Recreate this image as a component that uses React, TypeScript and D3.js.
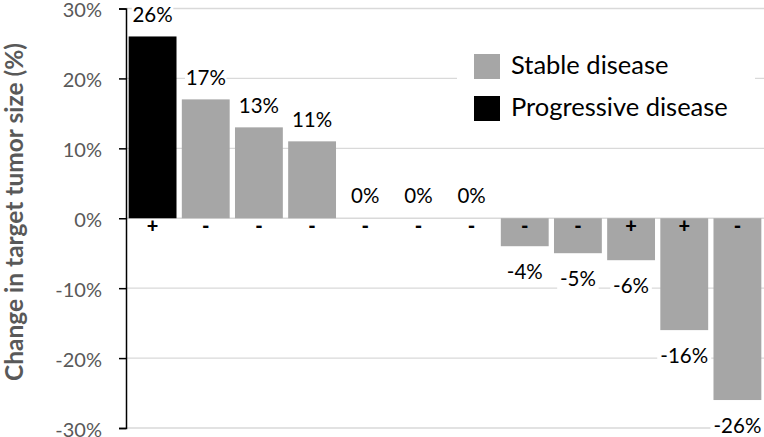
import { axisLeft, scaleBand, scaleLinear, select } from 'd3';
import { useEffect, useRef } from 'react';

// one bar per patient, sorted by change
const patients = ['P1', 'P2', 'P3', 'P4', 'P5', 'P6', 'P7', 'P8', 'P9', 'P10', 'P11', 'P12'];
const change = [26, 17, 13, 11, 0, 0, 0, -4, -5, -6, -16, -26];
const response = [
  'Progressive disease',
  'Stable disease',
  'Stable disease',
  'Stable disease',
  'Stable disease',
  'Stable disease',
  'Stable disease',
  'Stable disease',
  'Stable disease',
  'Stable disease',
  'Stable disease',
  'Stable disease',
];
const marker = ['+', '-', '-', '-', '-', '-', '-', '-', '-', '+', '+', '-'];
const yTicks = [-30, -20, -10, 0, 10, 20, 30];
const legendItems = ['Stable disease', 'Progressive disease'];

const W = 764;
const H = 437;
const FONT = 'Lato, "Open Sans", sans-serif';
const colors = { 'Stable disease': '#a6a6a6', 'Progressive disease': '#000000' };

function App() {
  const svgRef = useRef(null);

  useEffect(() => {
    const svg = select(svgRef.current);
    svg.selectAll('*').remove();

    const xScale = scaleBand()
      .domain(patients)
      .range([126, W])
      .paddingInner(0.1)
      .paddingOuter(0.05);
    const yScale = scaleLinear() //
      .domain([-30, 30])
      .range([428, 8.5]);

    // gridlines
    svg
      .append('g')
      .selectAll('line')
      .data(yTicks)
      .join('line')
      .attr('x1', 126)
      .attr('x2', W)
      .attr('y1', d => yScale(d))
      .attr('y2', d => yScale(d))
      .attr('stroke', '#d9d9d9')
      .attr('stroke-width', 1.3);

    const rows = change.map((v, i) => ({ v, id: patients[i], r: response[i], m: marker[i] }));

    svg
      .append('g')
      .selectAll('rect')
      .data(rows)
      .join('rect')
      .attr('x', d => xScale(d.id))
      .attr('width', xScale.bandwidth())
      .attr('y', d => yScale(Math.max(d.v, 0)))
      .attr('height', d => Math.abs(yScale(d.v) - yScale(0)))
      .attr('fill', d => colors[d.r]);

    // value labels
    const labelY = d => (d.v > 0 ? yScale(d.v) - 14 : d.v === 0 ? yScale(0) - 15 : yScale(d.v) + 33);
    const labels = svg.append('g');
    labels
      .selectAll('rect')
      .data(rows)
      .join('rect')
      .attr('x', d => xScale(d.id) + xScale.bandwidth() / 2 - (`${d.v}%`.length * 12.5) / 2 - 2)
      .attr('width', d => `${d.v}%`.length * 12.5 + 4)
      .attr('y', d => labelY(d) - 18)
      .attr('height', 23)
      .attr('fill', '#fff');
    labels
      .selectAll('text')
      .data(rows)
      .join('text')
      .attr('x', d => xScale(d.id) + xScale.bandwidth() / 2)
      .attr('y', labelY)
      .attr('text-anchor', 'middle')
      .attr('font-family', FONT)
      .attr('font-size', 20.5)
      .attr('fill', '#000')
      .text(d => `${d.v}%`);

    // +/- markers under the zero line
    svg
      .append('g')
      .selectAll('text')
      .data(rows)
      .join('text')
      .attr('x', d => xScale(d.id) + xScale.bandwidth() / 2)
      .attr('y', yScale(0) + 15)
      .attr('text-anchor', 'middle')
      .attr('font-family', FONT)
      .attr('font-weight', 900)
      .attr('font-size', 20)
      .attr('fill', '#000')
      .text(d => d.m);

    // y axis
    const yAxis = axisLeft(yScale)
      .tickValues(yTicks)
      .tickSize(7)
      .tickPadding(17)
      .tickFormat(d => `${d}%`);
    const ax = svg.append('g').attr('transform', 'translate(126,0)').call(yAxis);
    ax.select('.domain').attr('stroke', '#000').attr('stroke-width', 1.5);
    ax.selectAll('.tick line').attr('stroke', '#000').attr('stroke-width', 1.5);
    ax.selectAll('.tick text')
      .attr('font-family', FONT)
      .attr('font-size', 20)
      .attr('fill', '#595959')
      .attr('dy', '0.4em');

    svg
      .append('text')
      .attr('transform', 'translate(23,212) rotate(-90)')
      .attr('text-anchor', 'middle')
      .attr('font-family', FONT)
      .attr('font-weight', 'bold')
      .attr('font-size', 24.5)
      .attr('fill', '#595959')
      .text('Change in target tumor size (%)');

    // legend
    const legend = svg.append('g');
    legend.append('rect').attr('x', 457).attr('y', 42).attr('width', 298).attr('height', 90).attr('fill', '#fff');
    const item = legend
      .selectAll('g')
      .data(legendItems)
      .join('g')
      .attr('transform', (d, i) => `translate(474,${54 + i * 42})`);
    item.append('rect').attr('width', 26).attr('height', 25).attr('fill', d => colors[d]);
    item
      .append('text')
      .attr('x', 37)
      .attr('y', 20)
      .attr('font-family', FONT)
      .attr('font-size', 25.5)
      .attr('fill', '#000')
      .text(d => d);
  }, []);

  return (
    <svg
      ref={svgRef}
      width={W}
      height={H}
      style={{ position: 'absolute', left: 0, top: 0, background: '#fff' }}
    />
  );
}

export default App;
